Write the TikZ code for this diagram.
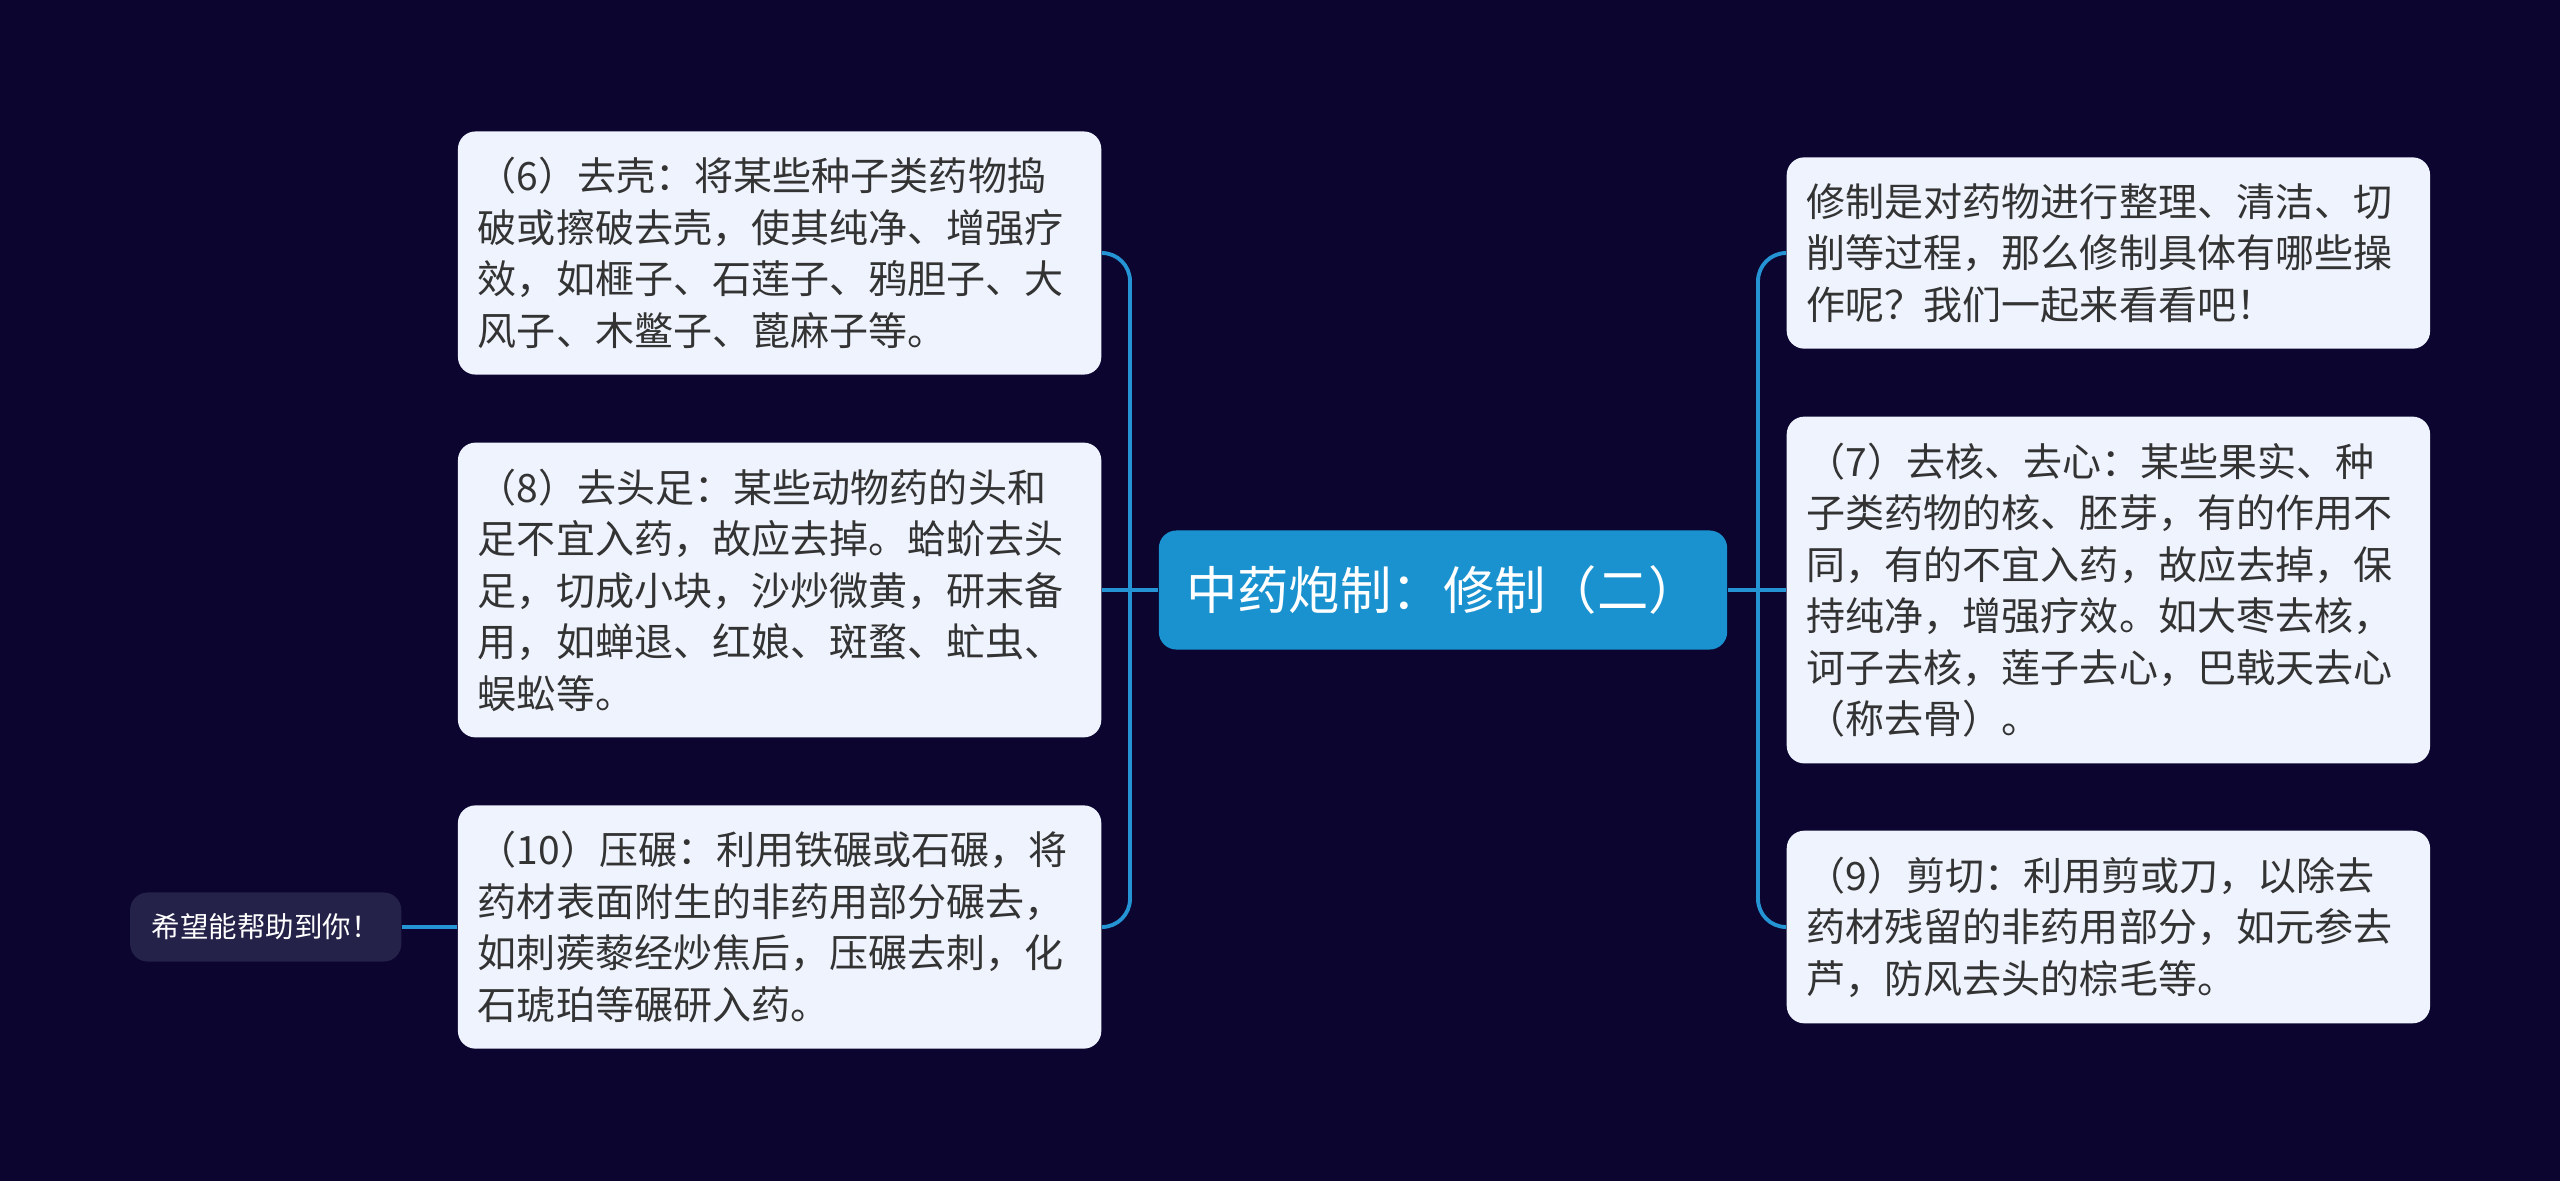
\documentclass[tikz,border=0pt]{standalone}
\usepackage{fontspec}
\setmainfont{Noto Sans CJK SC}
\usetikzlibrary{positioning,arrows.meta}

\definecolor{bgnavy}{HTML}{0B0530}
\definecolor{rootblue}{HTML}{1A92D0}
\definecolor{leafbg}{HTML}{EEF3FD}
\definecolor{leaftxt}{HTML}{333333}
\definecolor{tipbg}{HTML}{25224A}
\definecolor{linkblue}{HTML}{2494D4}

\begin{document}
\begin{tikzpicture}[
    x=0.01cm, y=-0.01cm,
    leaf/.style={fill=leafbg, rounded corners=5pt, text=leaftxt, align=left,
        text width=6.03cm, inner xsep=0.2cm, inner ysep=0.26cm,
        font=\fontsize{11.1}{14.65}\selectfont},
    root/.style={fill=rootblue, rounded corners=5pt, text=white,
        minimum width=5.68cm, minimum height=1.19cm, font=\fontsize{14.6}{16}\selectfont},
    tip/.style={fill=tipbg, rounded corners=5pt, text=white,
        minimum width=2.71cm, minimum height=0.69cm, font=\fontsize{8.1}{10}\selectfont},
    link/.style={draw=linkblue, line width=1.1pt, rounded corners=8pt}
]
\fill[bgnavy] (0,0) rectangle (2560,1181);
\useasboundingbox (0,0) rectangle (2560,1181);

\node[root] (main) at (1443,590) {中药炮制：修制（二）};

% left side
\node[leaf, anchor=east] (shell) at (1102,253) {（6）去壳：将某些种子类药物捣\\破或擦破去壳，使其纯净、增强疗\\效，如榧子、石莲子、鸦胆子、大\\风子、木鳖子、蓖麻子等。};
\node[leaf, anchor=east] (head) at (1102,590) {（8）去头足：某些动物药的头和\\足不宜入药，故应去掉。蛤蚧去头\\足，切成小块，沙炒微黄，研末备\\用，如蝉退、红娘、斑蝥、虻虫、\\蜈蚣等。};
\node[leaf, anchor=east] (crush) at (1102,927) {（10）压碾：利用铁碾或石碾，将\\药材表面附生的非药用部分碾去，\\如刺蒺藜经炒焦后，压碾去刺，化\\石琥珀等碾研入药。};
\node[tip, anchor=east] (wish) at (402,927) {希望能帮助到你！};

% right side
\node[leaf, anchor=west] (intro) at (1786,253) {修制是对药物进行整理、清洁、切\\削等过程，那么修制具体有哪些操\\作呢？我们一起来看看吧！};
\node[leaf, anchor=west] (core) at (1786,590) {（7）去核、去心：某些果实、种\\子类药物的核、胚芽，有的作用不\\同，有的不宜入药，故应去掉，保\\持纯净，增强疗效。如大枣去核，\\诃子去核，莲子去心，巴戟天去心\\（称去骨）。};
\node[leaf, anchor=west] (cut) at (1786,927) {（9）剪切：利用剪或刀，以除去\\药材残留的非药用部分，如元参去\\芦，防风去头的棕毛等。};

\coordinate (lj) at (1130,590);
\coordinate (rj) at (1758,590);

\draw[link] (main.west) -- (head.east);
\draw[link] (lj) |- (shell.east);
\draw[link] (lj) |- (crush.east);
\draw[link] (main.east) -- (core.west);
\draw[link] (rj) |- (intro.west);
\draw[link] (rj) |- (cut.west);
\draw[link] (crush.west) -- (wish.east);
\end{tikzpicture}
\end{document}
